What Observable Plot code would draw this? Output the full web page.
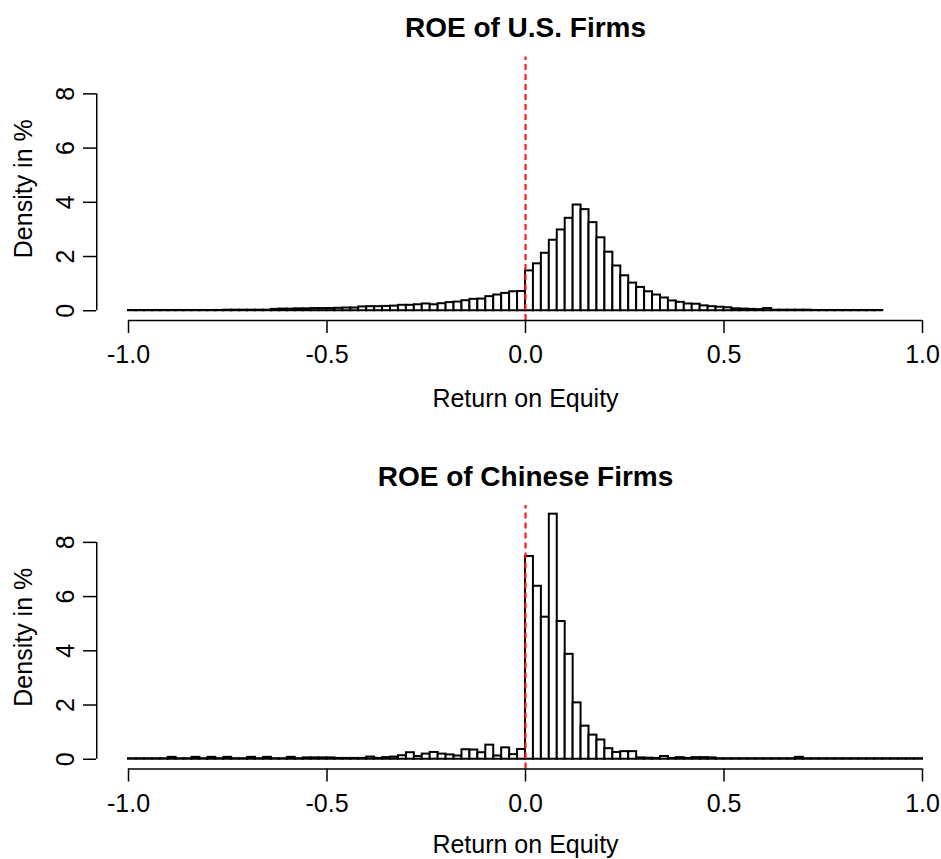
<!DOCTYPE html>
<html>
<head>
<meta charset="utf-8">
<script src="https://cdn.jsdelivr.net/npm/d3@7"></script>
<script src="https://cdn.jsdelivr.net/npm/@observablehq/plot@0.6"></script>
<style>
  html, body { margin: 0; padding: 0; background: #fff; }
  #chart svg { display: block; }
</style>
</head>
<body>
<div id="chart"></div>
<script>
// ---- data ----
const binWidth = 0.02;
const titles = ["ROE of U.S. Firms", "ROE of Chinese Firms"];
const xLabel = "Return on Equity";
const yLabel = "Density in %";
const xTicks = [-1, -0.5, 0, 0.5, 1];
const yTicks = [0, 2, 4, 6, 8];
const xLim = [-1, 1];
const yLim = [0, 9];
const refLine = [0];

// U.S. firms: bins from -1.00 to 0.90 (width 0.02), density in %
const usStart = -1.0;
const usDensity = [
  0.01, 0.01, 0.01, 0.01, 0.01, 0.01, 0.01, 0.01, 0.01, 0.01,
  0.01, 0.01, 0.02, 0.02, 0.02, 0.02, 0.02, 0.02,
  0.05, 0.06, 0.06, 0.07, 0.07, 0.08, 0.08, 0.08, 0.09, 0.10,
  0.10, 0.14, 0.15, 0.15, 0.16, 0.17, 0.20, 0.20, 0.22, 0.25,
  0.22, 0.26, 0.30, 0.32, 0.37, 0.42, 0.43, 0.52, 0.58, 0.64,
  0.70, 0.71,
  1.47, 1.73, 2.12, 2.60, 2.98, 3.41, 3.90, 3.73, 3.25, 2.69,
  2.16, 1.65, 1.29, 1.02, 0.86, 0.70, 0.58, 0.47, 0.36, 0.31,
  0.25, 0.24, 0.18, 0.15, 0.13, 0.11, 0.07, 0.06, 0.05, 0.04,
  0.08,
  0.02, 0.02, 0.02, 0.02, 0.02, 0.01, 0.01, 0.01, 0.01, 0.01,
  0.01, 0.01, 0.01, 0.01
];

// Chinese firms: bins from -1.00 to 1.00 (width 0.02), density in %
const cnStart = -1.0;
const cnDensity = [
  0.02, 0.02, 0.02, 0.02, 0.02, 0.07, 0.02, 0.02, 0.07, 0.02,
  0.07, 0.02, 0.07, 0.02, 0.02, 0.07, 0.02, 0.07, 0.02, 0.02,
  0.07, 0.02, 0.05, 0.05, 0.05, 0.05, 0.03, 0.03, 0.03, 0.03,
  0.08, 0.03, 0.06, 0.08, 0.13, 0.24, 0.10, 0.19, 0.25, 0.19,
  0.16, 0.12, 0.35, 0.34, 0.24, 0.52, 0.12, 0.42, 0.17, 0.36,
  7.48, 6.38, 5.24, 9.04, 5.08, 3.87, 2.08, 1.22, 0.89, 0.71,
  0.39, 0.25, 0.28, 0.28, 0.05, 0.04, 0.03, 0.10, 0.03, 0.06,
  0.03, 0.06, 0.06, 0.05, 0.02, 0.02, 0.02, 0.02, 0.02, 0.02,
  0.02, 0.02, 0.02, 0.02, 0.07, 0.02, 0.02, 0.02, 0.02, 0.02,
  0.02, 0.02, 0.02, 0.02, 0.02, 0.02, 0.02, 0.02, 0.02, 0.02
];

// ---- drawing ----
const font = "'Liberation Sans', Arial, Helvetica, sans-serif";
const labelSize = 25;

function panel(title, start, density, L) {
  const bins = density.map((v, i) => ({x1: start + i * binWidth, x2: start + (i + 1) * binWidth, y: v}));
  const xPad = 0.04 * (xLim[1] - xLim[0]);
  const yPad = 0.04 * (yLim[1] - yLim[0]);
  const yLo = yLim[0] - yPad, yHi = yLim[1] + yPad;
  const frameBottom = L.height - L.marginBottom;
  return Plot.plot({
    width: 941,
    height: L.height,
    marginTop: L.marginTop,
    marginBottom: L.marginBottom,
    marginLeft: 128,
    marginRight: 19,
    x: {domain: xLim},
    y: {domain: [yLo, yHi]},
    style: {fontFamily: font, color: "black", background: "white", overflow: "visible"},
    marks: [
      Plot.rect(bins, {x1: "x1", x2: "x2", y1: 0, y2: "y", fill: "white", stroke: "black", strokeWidth: 2}),
      Plot.ruleX(refLine, {y1: yLo, y2: yHi, stroke: "#ff1a1a", strokeWidth: 2.2, strokeDasharray: "6,4"}),
      Plot.ruleY([yLo], {x1: xTicks[0], x2: xTicks[xTicks.length - 1], stroke: "black", strokeWidth: 1.5}),
      Plot.ruleX([xLim[0] - xPad], {y1: yTicks[0], y2: yTicks[yTicks.length - 1], stroke: "black", strokeWidth: 1.5}),
      Plot.axisX({ticks: xTicks, tickSize: 13, tickPadding: 12, strokeWidth: 1.5, tickFormat: d => d.toFixed(1), fontSize: labelSize, label: null}),
      Plot.axisY({ticks: yTicks, tickSize: 13, dx: -32, strokeWidth: 1.5, tickFormat: () => "", label: null}),
      Plot.text(yTicks, {y: d => d, text: d => String(d), frameAnchor: "left", dx: -63, rotate: -90, textAnchor: "middle", lineAnchor: "middle", fontSize: labelSize}),
      Plot.text([yLabel], {text: d => d, frameAnchor: "left", dx: -105, rotate: -90, textAnchor: "middle", lineAnchor: "middle", fontSize: labelSize}),
      Plot.text([xLabel], {text: d => d, frameAnchor: "bottom", dy: L.xLabelY - frameBottom, textAnchor: "middle", lineAnchor: "middle", fontSize: labelSize}),
      Plot.text([title], {text: d => d, frameAnchor: "top", dy: L.titleY - L.marginTop, textAnchor: "middle", lineAnchor: "middle", fontSize: 28, fontWeight: "bold"})
    ]
  });
}

const chart = document.getElementById("chart");
chart.append(panel(titles[0], usStart, usDensity, {height: 430, marginTop: 56.5, marginBottom: 110, titleY: 28, xLabelY: 398}));
chart.append(panel(titles[1], cnStart, cnDensity, {height: 429, marginTop: 75, marginBottom: 90.5, titleY: 47, xLabelY: 414}));
</script>
</body>
</html>
